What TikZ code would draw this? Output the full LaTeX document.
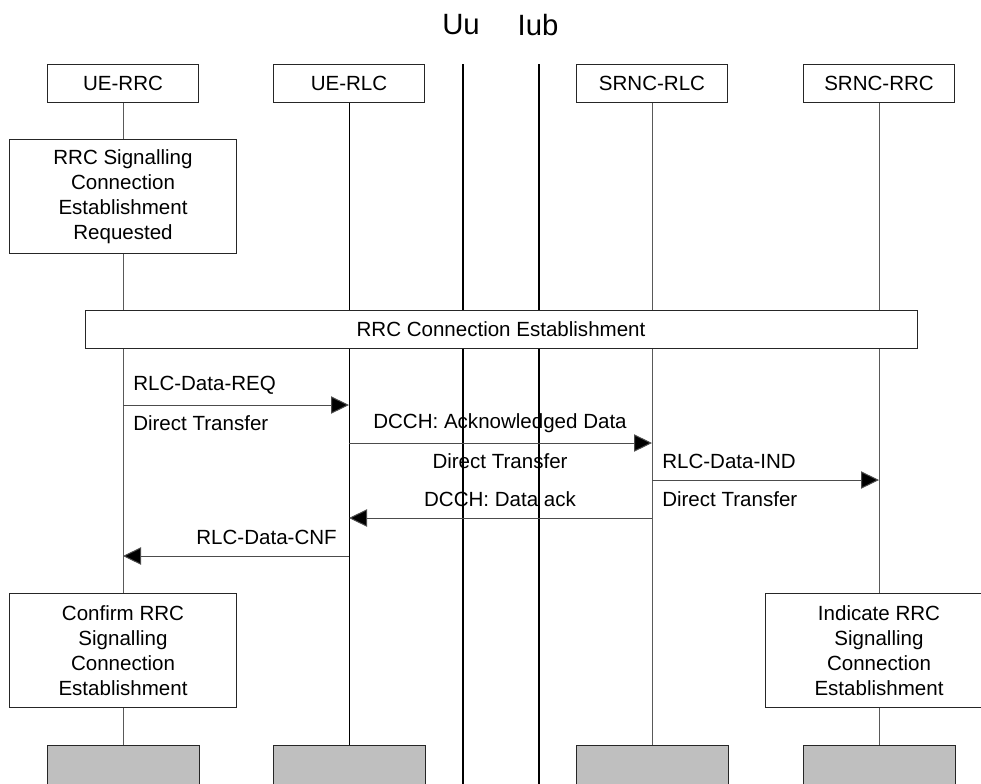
\documentclass[tikz,border=0pt]{standalone}
\usepackage{fontspec}
\setmainfont{Liberation Sans}
\usetikzlibrary{arrows.meta,positioning}
\pgfdeclarelayer{bg}
\pgfsetlayers{bg,main}
\tikzset{
  ent/.style={draw=black!85,fill=white,line width=0.75pt,minimum width=113.25pt,minimum height=28.5pt,inner sep=0pt},
  stepbox/.style={draw=black!85,fill=white,line width=0.75pt,minimum width=170.25pt,minimum height=85pt,inner sep=0pt,align=center},
  endbox/.style={draw=black!85,fill=black!25,line width=0.75pt,minimum width=114pt,minimum height=30pt,inner sep=0pt},
  life/.style={draw=black!65,line width=0.75pt},
  iface/.style={draw=black,line width=1.6pt},
  msg/.style={draw=black!70,line width=0.75pt,-{Triangle[length=13.5pt,width=13pt,fill=black]}},
  lbl/.style={inner sep=0pt}
}
\begin{document}
\begin{tikzpicture}[x=0.75pt,y=-0.75pt,font=\fontsize{15.4}{18.75}\selectfont]
\useasboundingbox (0,0) rectangle (981,783);
\node[ent] (uerrc) at (123,83) {UE-RRC};
\node[ent] (uerlc) at (349,83) {UE-RLC};
\node[ent] (srncrlc) at (652,83) {SRNC-RLC};
\node[ent] (srncrrc) at (879,83) {SRNC-RRC};
\node[font=\fontsize{22}{26}\selectfont] (uu) at (461,25) {Uu};
\node[font=\fontsize{22}{26}\selectfont] (iub) at (538,25) {Iub};
\node[stepbox] (sigreq) at (123,196.5) {RRC Signalling\\Connection\\Establishment\\Requested};
\node[stepbox,minimum width=624pt,minimum height=28.5pt] (rrcconn) at (501,329) {RRC Connection Establishment};
\node[stepbox] (sigcnf) at (123,650.5) {Confirm RRC\\Signalling\\Connection\\Establishment};
\node[stepbox] (sigind) at (879,650.5) {Indicate RRC\\Signalling\\Connection\\Establishment};
\node[endbox] (end1) at (123,765) {};
\node[endbox] (end2) at (349,765) {};
\node[endbox] (end3) at (652,765) {};
\node[endbox] (end4) at (879,765) {};
\coordinate (uutop) at (463,64);
\coordinate (uubot) at (463,790);
\coordinate (iubtop) at (539,64);
\coordinate (iubbot) at (539,790);
\begin{pgfonlayer}{bg}
\draw[life] (uerrc) -- (end1);
\draw[life,draw=black] (uerlc) -- (end2);
\draw[life] (srncrlc) -- (end3);
\draw[life] (srncrrc) -- (end4);
\draw[iface] (uutop) -- (uubot);
\draw[iface] (iubtop) -- (iubbot);
\end{pgfonlayer}
% messages
\draw[msg] (uerrc |- 0,405) -- (uerlc |- 0,405);
\node[lbl,anchor=west] (reqa) at (133,385) {RLC-Data-REQ};
\node[lbl,anchor=west] (reqb) at (133,423) {Direct Transfer};
\draw[msg] (uerlc |- 0,443) -- (srncrlc |- 0,443);
\node[lbl] (ackda) at (500,423) {DCCH: Acknowledged Data};
\node[lbl] (ackdb) at (500,461) {Direct Transfer};
\draw[msg] (srncrlc |- 0,480) -- (srncrrc |- 0,480);
\node[lbl,anchor=west] (inda) at (662,461) {RLC-Data-IND};
\node[lbl,anchor=west] (indb) at (662,499) {Direct Transfer};
\draw[msg] (srncrlc |- 0,518) -- (uerlc |- 0,518);
\node[lbl] (dack) at (500,499) {DCCH: Data ack};
\draw[msg] (uerlc |- 0,556) -- (uerrc |- 0,556);
\node[lbl,anchor=east] (cnf) at (337,537) {RLC-Data-CNF};
\end{tikzpicture}
\end{document}
